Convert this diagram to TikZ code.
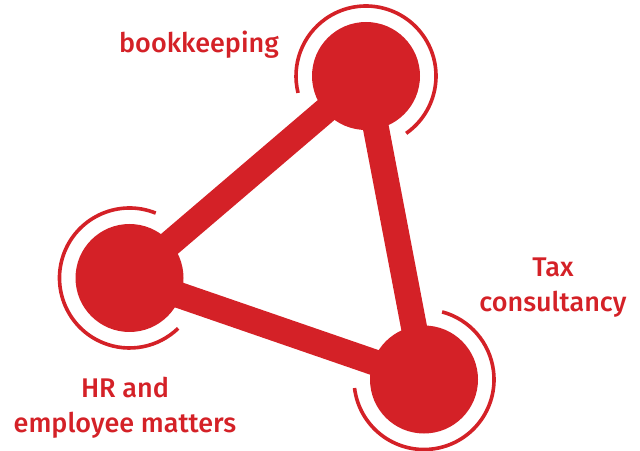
\documentclass[tikz,border=0pt]{standalone}
\usepackage{fontspec}
\setmainfont{Fira Sans}[BoldFont={Fira Sans Medium}]
\definecolor{brandred}{RGB}{212,33,39}
\begin{document}
\begin{tikzpicture}[x=1pt,y=1pt,
  hub/.style={circle,fill=brandred,minimum size=108pt,inner sep=0pt},
  bar/.style={brandred,line width=26pt},
  ring/.style={brandred,line width=3.6pt},
  lbl/.style={text=brandred,font=\fontsize{27}{35}\selectfont\bfseries,align=center,inner sep=0pt}]
\useasboundingbox (0,0) rectangle (640,450);
\coordinate (Tc) at (366,374);
\coordinate (Lc) at (129.5,172);
\coordinate (Bc) at (424,70.5);
\draw[bar] (Tc) -- (Lc);
\draw[bar] (Tc) -- (Bc);
\draw[bar] (Lc) -- (Bc);
\node[hub] (T) at (Tc) {};
\node[hub] (L) at (Lc) {};
\node[hub] (B) at (Bc) {};
\draw[ring] ([shift={(-55:70)}]T.center) arc[start angle=-55,end angle=194,radius=70];
\draw[ring] ([shift={(68:70)}]L.center) arc[start angle=68,end angle=314,radius=70];
\draw[ring] ([shift={(-173:70)}]B.center) arc[start angle=-173,end angle=75,radius=70];
\node[lbl] (bk) at (199,405.5) {bookkeeping};
\node[lbl] (tx) at (553,162) {Tax\\consultancy};
\node[lbl] (hr) at (125,42) {HR and\\employee matters};
\end{tikzpicture}
\end{document}
